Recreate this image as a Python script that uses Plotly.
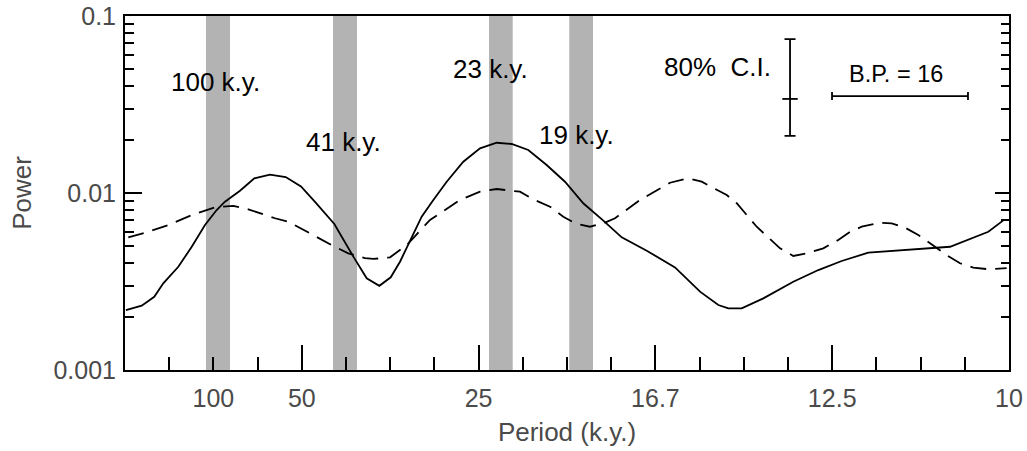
import math
import plotly.graph_objects as go

# ---- data (frequency in cycles/k.y., power) ----
solid_freq = [0.0001, 0.00189, 0.00331, 0.00433, 0.00603, 0.00755, 0.00905, 0.01037, 0.01131,
              0.01301, 0.01463, 0.01640, 0.01818, 0.01991, 0.02157, 0.02368, 0.02583, 0.02734,
              0.02877, 0.03006, 0.03111, 0.03224, 0.03356, 0.03488, 0.03639, 0.03827, 0.04016,
              0.04205, 0.04374, 0.04562, 0.04770, 0.04977, 0.05184, 0.05411, 0.05619, 0.05902,
              0.06222, 0.06505, 0.06712, 0.06825, 0.06976, 0.07221, 0.07560, 0.07843, 0.08107,
              0.08408, 0.08804, 0.09333, 0.09766, 0.09932]
solid_power = [0.00218, 0.00231, 0.00259, 0.00309, 0.00383, 0.00497, 0.00659, 0.00801, 0.00893,
               0.0103, 0.0121, 0.0127, 0.0123, 0.0109, 0.00882, 0.00668, 0.00437, 0.00330,
               0.00299, 0.00334, 0.00409, 0.00531, 0.00735, 0.00913, 0.01158, 0.01503, 0.01789,
               0.01923, 0.01892, 0.01750, 0.01439, 0.01158, 0.00875, 0.00698, 0.00562, 0.00472,
               0.00380, 0.00277, 0.00233, 0.00223, 0.00223, 0.00254, 0.00315, 0.00367, 0.00413,
               0.00460, 0.00476, 0.00497, 0.00604, 0.00698]

dashed_freq = [0.00037, 0.00226, 0.00490, 0.00755, 0.01018, 0.01225, 0.01395, 0.01697, 0.01847,
               0.02187, 0.02338, 0.02526, 0.02715, 0.02809, 0.02998, 0.03187, 0.03450, 0.03790,
               0.04016, 0.04205, 0.04468, 0.04619, 0.04808, 0.04958, 0.05110, 0.05260, 0.05430,
               0.05543, 0.05826, 0.06165, 0.06372, 0.06524, 0.06807, 0.06920, 0.07146, 0.07410,
               0.07560, 0.07712, 0.07899, 0.08069, 0.08201, 0.08334, 0.08541, 0.08673, 0.08824,
               0.08974, 0.09144, 0.09295, 0.09446, 0.09596, 0.09766, 0.09974]
dashed_power = [0.00562, 0.00597, 0.00659, 0.00751, 0.00830, 0.00845, 0.00809, 0.00720, 0.00689,
                0.00555, 0.00508, 0.00456, 0.00428, 0.00424, 0.00433, 0.00508, 0.00704, 0.00913,
                0.01017, 0.01053, 0.01017, 0.00921, 0.00837, 0.00735, 0.00668, 0.00645, 0.00680,
                0.00720, 0.00913, 0.01143, 0.0121, 0.01158, 0.00974, 0.00875, 0.00645, 0.00487,
                0.00441, 0.00456, 0.00487, 0.00543, 0.00604, 0.00645, 0.00680, 0.00674, 0.00637,
                0.00579, 0.00502, 0.00446, 0.00401, 0.00379, 0.00371, 0.00376]

# orbital bands (frequency limits)
band_labels = ["100 k.y.", "41 k.y.", "23 k.y.", "19 k.y."]
band_lo = [0.00916, 0.02353, 0.04118, 0.05026]
band_hi = [0.01188, 0.02624, 0.04386, 0.05294]
label_x = [0.01029, 0.02477, 0.04140, 0.05113]
label_y = [0.0424, 0.0194, 0.0502, 0.0213]

# confidence interval and bandwidth
ci_x, ci_y, ci_top, ci_bottom = 0.07523, 0.0340, 0.0741, 0.0210
bp_lo, bp_hi, bp_y = 0.07998, 0.09536, 0.0353

# axis ticks
x_tick_vals = [0.01, 0.02, 0.04, 0.06, 0.08, 0.1]
x_tick_text = ["100", "50", "25", "16.7", "12.5", "10"]
x_major_vals = [0.02, 0.04, 0.06, 0.08, 0.1]
y_tick_vals = [0.001, 0.01, 0.1]
y_tick_text = ["0.001", "0.01", "0.1"]
y_minor_vals = [m * d for d in (0.001, 0.01) for m in range(2, 10)]

FONT = "Liberation Sans, Arial, sans-serif"
GRAY = "#4a4a4a"

fig = go.Figure()

for lo, hi in zip(band_lo, band_hi):
    fig.add_shape(type="rect", xref="x", yref="paper", x0=lo, x1=hi, y0=0, y1=1,
                  fillcolor="#b3b3b3", line=dict(width=0), layer="below")

fig.add_trace(go.Scatter(x=dashed_freq, y=dashed_power, mode="lines",
                         line=dict(color="black", width=1.8, dash="16px,9px"),
                         showlegend=False, hoverinfo="skip"))
fig.add_trace(go.Scatter(x=solid_freq, y=solid_power, mode="lines",
                         line=dict(color="black", width=1.8),
                         showlegend=False, hoverinfo="skip"))

# 80% C.I. bar
fig.add_trace(go.Scatter(x=[ci_x], y=[ci_y], mode="markers",
                         marker=dict(symbol="line-ew", size=11, line=dict(color="black", width=1.8)),
                         error_y=dict(type="data", symmetric=False,
                                      array=[ci_top - ci_y], arrayminus=[ci_y - ci_bottom],
                                      color="black", thickness=1.8, width=5.5),
                         showlegend=False, hoverinfo="skip"))
# bandwidth bar
bp_c = (bp_lo + bp_hi) / 2
fig.add_trace(go.Scatter(x=[bp_c], y=[bp_y], mode="markers",
                         marker=dict(size=1, color="rgba(0,0,0,0)"),
                         error_x=dict(type="data", array=[bp_hi - bp_c],
                                      color="black", thickness=1.8, width=4),
                         showlegend=False, hoverinfo="skip"))

for txt, lx, ly in zip(band_labels, label_x, label_y):
    fig.add_annotation(x=lx, y=math.log10(ly), text=txt, showarrow=False,
                       font=dict(family=FONT, size=26, color="black"))
fig.add_annotation(x=0.0733, y=math.log10(0.0515), text="80%&nbsp;&nbsp;C.I.", showarrow=False,
                   xanchor="right", font=dict(family=FONT, size=26, color="black"))
fig.add_annotation(x=0.08722, y=math.log10(0.047), text="B.P. = 16", showarrow=False,
                   font=dict(family=FONT, size=23.5, color="black"))

fig.update_layout(
    width=1027, height=451,
    margin=dict(l=125, r=18, t=16, b=81, autoexpand=False),
    paper_bgcolor="white", plot_bgcolor="white",
    font=dict(family=FONT, size=25, color=GRAY),
    xaxis=dict(range=[0, 0.1], showgrid=False, zeroline=False, automargin=False,
               showline=True, linecolor="black", linewidth=2, mirror=True,
               tickmode="array", tickvals=x_tick_vals, ticktext=x_tick_text,
               ticks="inside", ticklen=13, tickwidth=2, tickcolor="black",
               ticklabelstandoff=5,
               tickfont=dict(family=FONT, size=25, color=GRAY),
               minor=dict(dtick=0.005, tick0=0, ticks="inside", ticklen=13,
                          tickwidth=2, tickcolor="black", showgrid=False),
               title=dict(text="Period (k.y.)", font=dict(family=FONT, size=26, color=GRAY),
                          standoff=12)),
    xaxis2=dict(range=[0, 0.1], overlaying="x", side="bottom", anchor="y", automargin=False,
                showgrid=False, zeroline=False, showline=False,
                tickmode="array", tickvals=x_major_vals, showticklabels=False,
                ticks="inside", ticklen=25, tickwidth=2, tickcolor="black"),
    yaxis=dict(type="log", range=[-3, -1], showgrid=False, zeroline=False, automargin=False,
               showline=True, linecolor="black", linewidth=2,
               tickmode="array", tickvals=y_tick_vals, ticktext=y_tick_text,
               ticks="inside", ticklen=17, tickwidth=2, tickcolor="black",
               ticklabelstandoff=2,
               tickfont=dict(family=FONT, size=25, color=GRAY),
               minor=dict(tickmode="array", tickvals=y_minor_vals, ticks="inside",
                          ticklen=9, tickwidth=2, tickcolor="black", showgrid=False),
               title=dict(text="Power", font=dict(family=FONT, size=26, color=GRAY),
                          standoff=14)),
    yaxis2=dict(type="log", range=[-3, -1], overlaying="y", side="right", anchor="x",
                showgrid=False, zeroline=False, automargin=False,
                showline=True, linecolor="black", linewidth=2,
                tickmode="array", tickvals=[0.01], showticklabels=False,
                ticks="inside", ticklen=14, tickwidth=2, tickcolor="black",
                minor=dict(tickmode="array", tickvals=y_minor_vals, ticks="inside",
                           ticklen=8, tickwidth=2, tickcolor="black", showgrid=False)),
)

# invisible trace to activate overlay axes
fig.add_trace(go.Scatter(x=[0.05], y=[0.01], xaxis="x2", yaxis="y2", mode="markers",
                         marker=dict(opacity=0), showlegend=False, hoverinfo="skip"))

fig.write_html("out.html", config={"displayModeBar": False},
               post_script="document.body.style.margin='0';")
